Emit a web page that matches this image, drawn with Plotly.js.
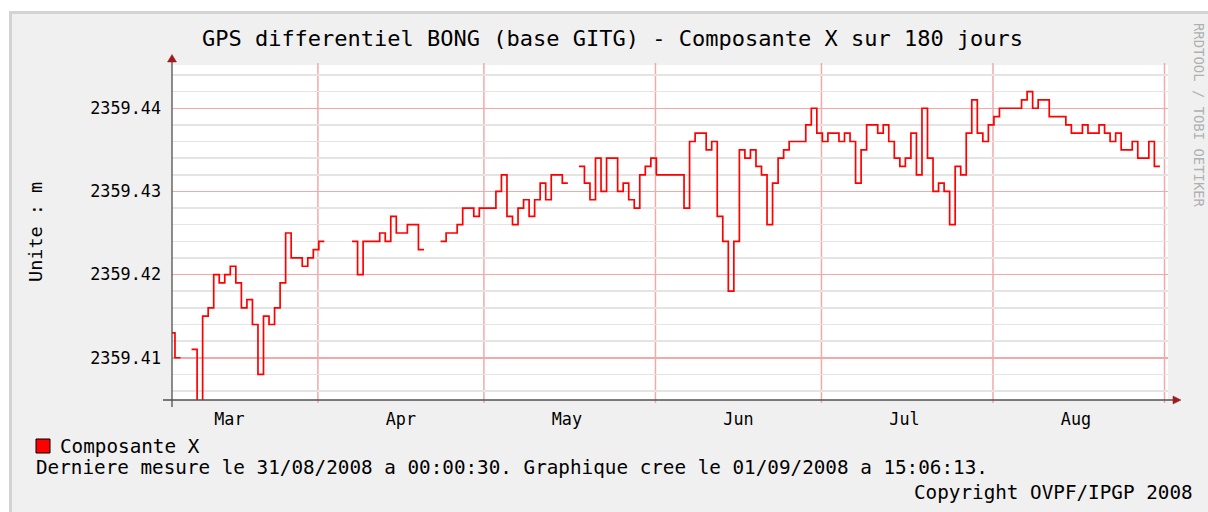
<!DOCTYPE html>
<html>
<head>
<meta charset="utf-8">
<script src="https://cdn.plot.ly/plotly-3.0.1.min.js"></script>
<style>
  html, body { margin: 0; padding: 0; background: #ffffff; overflow: hidden; width: 1208px; height: 512px; }
  #frame { position: absolute; left: 9px; top: 11px; border-left: 3px solid #d3d3d3; border-top: 3px solid #d3d3d3; }
  #chart { width: 1196px; height: 498px; }
</style>
</head>
<body>
<div id="frame"><div id="chart"></div></div>
<script>
// ---- Data (daily values, metres) ----
const monthKeys = ['2008-03', '2008-04', '2008-05', '2008-06', '2008-07', '2008-08'];
const firstDays = [5, 1, 1, 1, 1, 1];

const valuesMar = [2359.413, 2359.410, null, null, 2359.411, 2359.403, 2359.415, 2359.416, 2359.420,
  2359.419, 2359.420, 2359.421, 2359.419, 2359.416, 2359.417, 2359.414, 2359.408, 2359.415,
  2359.414, 2359.416, 2359.419, 2359.425, 2359.422, 2359.422, 2359.421, 2359.422, 2359.423];
const valuesApr = [2359.424, null, null, null, null, null, 2359.424, 2359.420, 2359.424, 2359.424,
  2359.424, 2359.425, 2359.424, 2359.427, 2359.425, 2359.425, 2359.426, 2359.426, 2359.423,
  null, null, null, 2359.424, 2359.425, 2359.425, 2359.426, 2359.428, 2359.428, 2359.427, 2359.428];
const valuesMay = [2359.428, 2359.428, 2359.430, 2359.432, 2359.427, 2359.426, 2359.428, 2359.429,
  2359.427, 2359.429, 2359.431, 2359.429, 2359.432, 2359.432, 2359.431, null, null, 2359.433,
  2359.431, 2359.429, 2359.434, 2359.430, 2359.434, 2359.434, 2359.430, 2359.431, 2359.429,
  2359.428, 2359.432, 2359.433, 2359.434];
const valuesJun = [2359.432, 2359.432, 2359.432, 2359.432, 2359.432, 2359.428, 2359.436, 2359.437,
  2359.437, 2359.435, 2359.436, 2359.427, 2359.424, 2359.418, 2359.424, 2359.435, 2359.434,
  2359.435, 2359.433, 2359.432, 2359.426, 2359.431, 2359.434, 2359.435, 2359.436, 2359.436,
  2359.436, 2359.438, 2359.440, 2359.437];
const valuesJul = [2359.436, 2359.437, 2359.437, 2359.436, 2359.437, 2359.436, 2359.431, 2359.435,
  2359.438, 2359.438, 2359.437, 2359.438, 2359.436, 2359.434, 2359.433, 2359.434, 2359.437,
  2359.432, 2359.440, 2359.434, 2359.430, 2359.431, 2359.430, 2359.426, 2359.433, 2359.432,
  2359.437, 2359.441, 2359.437, 2359.436, 2359.438];
const valuesAug = [2359.439, 2359.440, 2359.440, 2359.440, 2359.440, 2359.441, 2359.442, 2359.440,
  2359.441, 2359.441, 2359.439, 2359.439, 2359.439, 2359.438, 2359.437, 2359.437, 2359.438,
  2359.437, 2359.437, 2359.438, 2359.437, 2359.436, 2359.437, 2359.435, 2359.435, 2359.436,
  2359.434, 2359.434, 2359.436, 2359.433];
const monthValues = [valuesMar, valuesApr, valuesMay, valuesJun, valuesJul, valuesAug];

// ---- Axis labels ----
const monthLabels = ['Mar', 'Apr', 'May', 'Jun', 'Jul', 'Aug'];
const monthLabelDates = ['2008-03-16', '2008-04-16', '2008-05-16', '2008-06-16', '2008-07-16', '2008-08-16'];
const monthGridDates = ['2008-04-01', '2008-05-01', '2008-06-01', '2008-07-01', '2008-08-01', '2008-09-01'];
const xRange = ['2008-03-05 15:06', '2008-09-01 15:06'];
const yRange = [2359.40492, 2359.44520];

const titleText = 'GPS differentiel BONG (base GITG) - Composante X sur 180 jours';
const unitText = 'Unite : m';
const legendText = 'Composante X';
const infoText = 'Derniere mesure le 31/08/2008 a 00:00:30. Graphique cree le 01/09/2008 a 15:06:13.';
const copyText = 'Copyright OVPF/IPGP 2008';
const toolText = 'RRDTOOL / TOBI OETIKER';

// ---- Build step line from daily values ----
function stamp(key, day, hour) {
  const [y, m] = key.split('-').map(Number);
  const d = new Date(Date.UTC(y, m - 1, day, hour));
  return d.toISOString().slice(0, 16).replace('T', ' ');
}
const xs = [], ys = [];
monthKeys.forEach((key, mi) => {
  monthValues[mi].forEach((v, j) => {
    const day = firstDays[mi] + j;
    if (v === null) {
      if (ys.length && ys[ys.length - 1] !== null) { xs.push(stamp(key, day, 4)); ys.push(null); }
      return;
    }
    xs.push(stamp(key, day, 4)); ys.push(v);
    xs.push(stamp(key, day + 1, 4)); ys.push(v);
  });
});

const mono = 'DejaVu Sans Mono';
const trace = {
  x: xs, y: ys, type: 'scatter', mode: 'lines',
  line: { color: '#ff0000', width: 1.7, shape: 'linear' },
  connectgaps: false, hoverinfo: 'skip', showlegend: false
};

// plot area in page px: x 172..1168, y 65..400
const px = p => (p - 172) / 996;
const py = p => (400 - p) / 335;

const axisCol = '#505050';
const arrowCol = '#9b1c1c';
const majorGrid = '#f2a9a9';

const gridShapes = monthGridDates.map(d => ({
  type: 'line', xref: 'x', yref: 'paper', x0: d, x1: d, y0: py(403), y1: py(63),
  layer: 'below', line: { color: majorGrid, width: 1.5 }
}));

const layout = {
  width: 1196, height: 498,
  margin: { l: 160, r: 40, t: 51, b: 112, pad: 0 },
  paper_bgcolor: '#f0f0f0',
  plot_bgcolor: '#ffffff',
  showlegend: false,
  title: {
    text: titleText,
    font: { family: mono, size: 22, color: '#000000' },
    xref: 'container', yref: 'container', x: 0.5021, y: 0.9518,
    xanchor: 'center', yanchor: 'middle'
  },
  xaxis: {
    type: 'date', range: xRange, fixedrange: true,
    tickmode: 'array', tickvals: monthLabelDates, ticktext: monthLabels,
    ticks: '', showgrid: false, zeroline: false, showline: false,
    ticklabelstandoff: 7,
    tickfont: { family: mono, size: 16.8, color: '#000000' }
  },
  yaxis: {
    range: yRange, fixedrange: true,
    tick0: 2359.41, dtick: 0.01, tickformat: '.2f',
    ticks: '', showgrid: true, gridcolor: majorGrid, gridwidth: 1.5,
    zeroline: false, showline: false,
    ticklabelstandoff: 10,
    tickfont: { family: mono, size: 16.8, color: '#000000' },
    minor: { tick0: 2359.41, dtick: 0.002, showgrid: true, gridcolor: '#e4e4e4', gridwidth: 1.5, ticks: '' }
  },
  shapes: gridShapes.concat([
    // x axis line
    { type: 'line', xref: 'paper', yref: 'paper', x0: px(163), x1: px(1173), y0: 0, y1: 0,
      line: { color: axisCol, width: 1.3 } },
    // y axis line
    { type: 'line', xref: 'paper', yref: 'paper', x0: 0, x1: 0, y0: py(407), y1: py(61),
      line: { color: axisCol, width: 1.3 } },
    // x arrow
    { type: 'path', xref: 'paper', yref: 'paper',
      path: `M ${px(1173)},${py(396)} L ${px(1181)},${py(400)} L ${px(1173)},${py(404)} Z`,
      fillcolor: arrowCol, line: { color: arrowCol, width: 0.5 } },
    // y arrow
    { type: 'path', xref: 'paper', yref: 'paper',
      path: `M ${px(167.5)},${py(62)} L ${px(172)},${py(54.5)} L ${px(176.5)},${py(62)} Z`,
      fillcolor: arrowCol, line: { color: arrowCol, width: 0.5 } },
    // legend swatch
    { type: 'rect', xref: 'paper', yref: 'paper', x0: px(36), x1: px(50), y0: py(439), y1: py(453),
      fillcolor: '#ff0000', line: { color: '#000000', width: 1 } }
  ]),
  annotations: [
    { text: unitText, xref: 'paper', yref: 'paper', x: px(35), y: py(232), textangle: -90,
      showarrow: false, xanchor: 'center', yanchor: 'middle',
      font: { family: mono, size: 18.5, color: '#000000' } },
    { text: legendText, xref: 'paper', yref: 'paper', x: px(58), y: py(446),
      showarrow: false, xanchor: 'left', yanchor: 'middle',
      font: { family: mono, size: 19.3, color: '#000000' } },
    { text: infoText, xref: 'paper', yref: 'paper', x: px(34), y: py(468),
      showarrow: false, xanchor: 'left', yanchor: 'middle',
      font: { family: mono, size: 19.3, color: '#000000' } },
    { text: copyText, xref: 'paper', yref: 'paper', x: px(1195), y: py(492),
      showarrow: false, xanchor: 'right', yanchor: 'middle',
      font: { family: mono, size: 19.3, color: '#000000' } },
    { text: toolText, xref: 'paper', yref: 'paper', x: px(1199), y: py(115), textangle: 90,
      showarrow: false, xanchor: 'center', yanchor: 'middle',
      font: { family: mono, size: 13.9, color: '#b0b0b0' } }
  ]
};

Plotly.newPlot('chart', [trace], layout, { displayModeBar: false, staticPlot: true });
</script>
</body>
</html>
